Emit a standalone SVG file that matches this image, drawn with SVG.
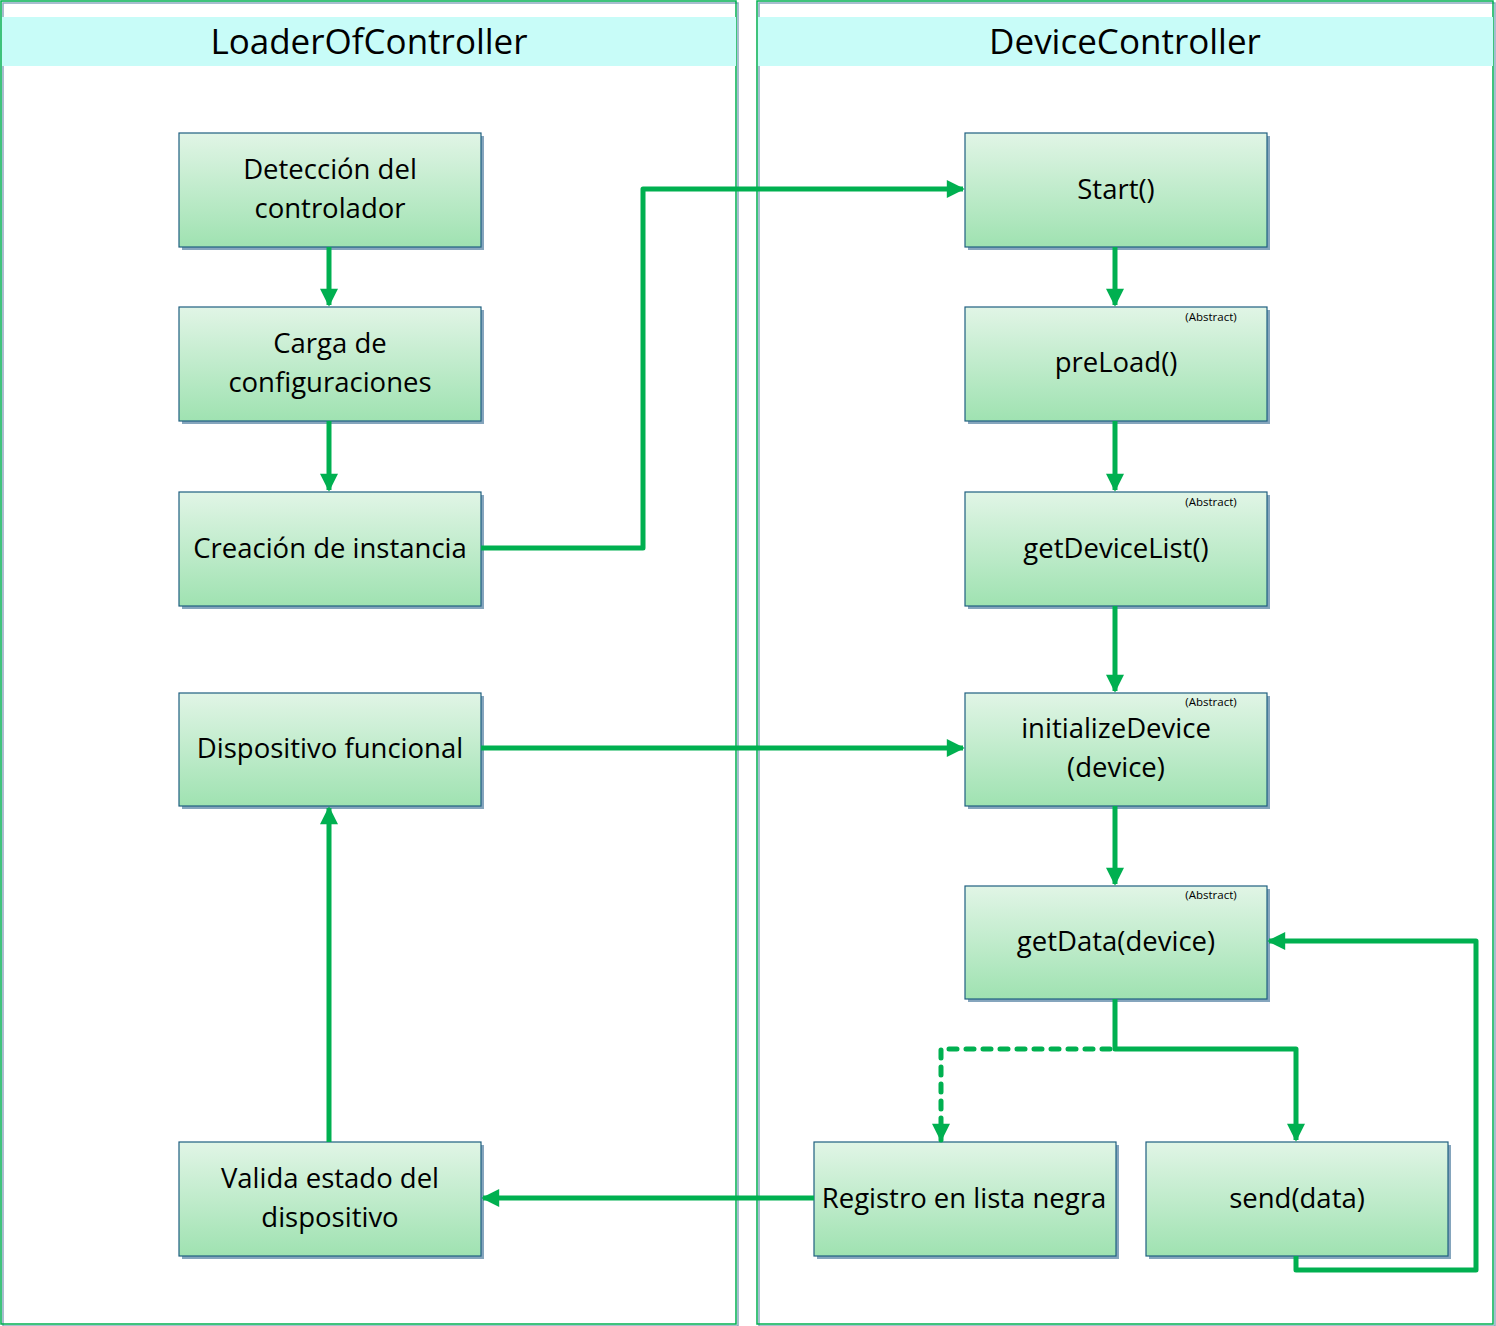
<svg xmlns="http://www.w3.org/2000/svg" width="1496" height="1326" viewBox="0 0 1496 1326">
<defs>
<linearGradient id="g" x1="0" y1="0" x2="0" y2="1">
<stop offset="0" stop-color="#e1f5e6"/>
<stop offset="1" stop-color="#9fe2b1"/>
</linearGradient>
<marker id="ah" viewBox="0 0 10 10" refX="9" refY="5" markerWidth="4" markerHeight="3.6" orient="auto" markerUnits="strokeWidth">
<path d="M0,0 L10,5 L0,10 z" fill="#00b050"/>
</marker>
</defs>
<style>
.lane{fill:none;stroke:#00b050;stroke-width:1.5}
.laneS{fill:none;stroke:#8aa8c0;stroke-width:1.5}
.hdr{fill:#c8fcf8}
.title{font-family:"Open Sans","Liberation Sans",Arial,sans-serif;font-size:35px;fill:#000;text-anchor:middle}
.box{fill:url(#g);stroke:#1f5f80;stroke-width:1.2}
.sh{fill:#85a5bd}
.t{font-family:"Open Sans","Liberation Sans",Arial,sans-serif;font-size:27.5px;fill:#000;text-anchor:middle}
.ab{font-family:"Open Sans","Liberation Sans",Arial,sans-serif;font-size:11.5px;fill:#000;text-anchor:middle}
.c{fill:none;stroke:#00b050;stroke-width:5;stroke-linejoin:round}
.d{stroke-dasharray:8 9;stroke-linecap:round}
</style>
<g id="lane-loader">
<rect class="laneS" x="3" y="3" width="735" height="1323"/>
<rect class="lane" x="1" y="1" width="735" height="1323"/>
<rect class="hdr" x="2" y="17" width="734" height="49"/>
<text class="title" x="369" y="54">LoaderOfController</text>
</g>
<g id="lane-device">
<rect class="laneS" x="759" y="3" width="736" height="1323"/>
<rect class="lane" x="757" y="1" width="736" height="1323"/>
<rect class="hdr" x="758" y="17" width="735" height="49"/>
<text class="title" x="1125" y="54">DeviceController</text>
</g>
<g id="n-deteccion">
<rect class="sh" x="182" y="136" width="302" height="114"/>
<rect class="box" x="179" y="133" width="302" height="114"/>
<text class="t" x="330" y="179">Detección del</text>
<text class="t" x="330" y="218">controlador</text>
</g>
<g id="n-carga">
<rect class="sh" x="182" y="310" width="302" height="114"/>
<rect class="box" x="179" y="307" width="302" height="114"/>
<text class="t" x="330" y="353">Carga de</text>
<text class="t" x="330" y="392">configuraciones</text>
</g>
<g id="n-creacion">
<rect class="sh" x="182" y="495" width="302" height="114"/>
<rect class="box" x="179" y="492" width="302" height="114"/>
<text class="t" x="330" y="558">Creación de instancia</text>
</g>
<g id="n-dispositivo">
<rect class="sh" x="182" y="696" width="302" height="113"/>
<rect class="box" x="179" y="693" width="302" height="113"/>
<text class="t" x="330" y="758">Dispositivo funcional</text>
</g>
<g id="n-valida">
<rect class="sh" x="182" y="1145" width="302" height="114"/>
<rect class="box" x="179" y="1142" width="302" height="114"/>
<text class="t" x="330" y="1188">Valida estado del</text>
<text class="t" x="330" y="1227">dispositivo</text>
</g>
<g id="n-start">
<rect class="sh" x="968" y="136" width="302" height="114"/>
<rect class="box" x="965" y="133" width="302" height="114"/>
<text class="t" x="1116" y="199">Start()</text>
</g>
<g id="n-preload">
<rect class="sh" x="968" y="310" width="302" height="114"/>
<rect class="box" x="965" y="307" width="302" height="114"/>
<text class="ab" x="1211" y="321">(Abstract)</text>
<text class="t" x="1116" y="372">preLoad()</text>
</g>
<g id="n-getdevicelist">
<rect class="sh" x="968" y="495" width="302" height="114"/>
<rect class="box" x="965" y="492" width="302" height="114"/>
<text class="ab" x="1211" y="506">(Abstract)</text>
<text class="t" x="1116" y="558">getDeviceList()</text>
</g>
<g id="n-initialize">
<rect class="sh" x="968" y="696" width="302" height="113"/>
<rect class="box" x="965" y="693" width="302" height="113"/>
<text class="ab" x="1211" y="706">(Abstract)</text>
<text class="t" x="1116" y="738">initializeDevice</text>
<text class="t" x="1116" y="777">(device)</text>
</g>
<g id="n-getdata">
<rect class="sh" x="968" y="889" width="302" height="113"/>
<rect class="box" x="965" y="886" width="302" height="113"/>
<text class="ab" x="1211" y="899">(Abstract)</text>
<text class="t" x="1116" y="951">getData(device)</text>
</g>
<g id="n-registro">
<rect class="sh" x="817" y="1145" width="302" height="114"/>
<rect class="box" x="814" y="1142" width="302" height="114"/>
<text class="t" x="964" y="1208">Registro en lista negra</text>
</g>
<g id="n-send">
<rect class="sh" x="1149" y="1145" width="302" height="114"/>
<rect class="box" x="1146" y="1142" width="302" height="114"/>
<text class="t" x="1297" y="1208">send(data)</text>
</g>
<g id="connectors">
<path class="c" d="M329,247 V305" marker-end="url(#ah)"/>
<path class="c" d="M329,421 V490" marker-end="url(#ah)"/>
<path class="c" d="M481,548 H643 V189 H963" marker-end="url(#ah)"/>
<path class="c" d="M1115,247 V305" marker-end="url(#ah)"/>
<path class="c" d="M1115,421 V490" marker-end="url(#ah)"/>
<path class="c" d="M1115,606 V691" marker-end="url(#ah)"/>
<path class="c" d="M1115,806 V884" marker-end="url(#ah)"/>
<path class="c" d="M1115,999 V1049 H1296 V1140" marker-end="url(#ah)"/>
<path class="c d" d="M1110,1049 H941 V1140" marker-end="url(#ah)"/>
<path class="c" d="M1296,1256 V1270 H1476 V941 H1269" marker-end="url(#ah)"/>
<path class="c" d="M814,1198 H483" marker-end="url(#ah)"/>
<path class="c" d="M329,1142 V808" marker-end="url(#ah)"/>
<path class="c" d="M481,748 H963" marker-end="url(#ah)"/>
</g>
</svg>
